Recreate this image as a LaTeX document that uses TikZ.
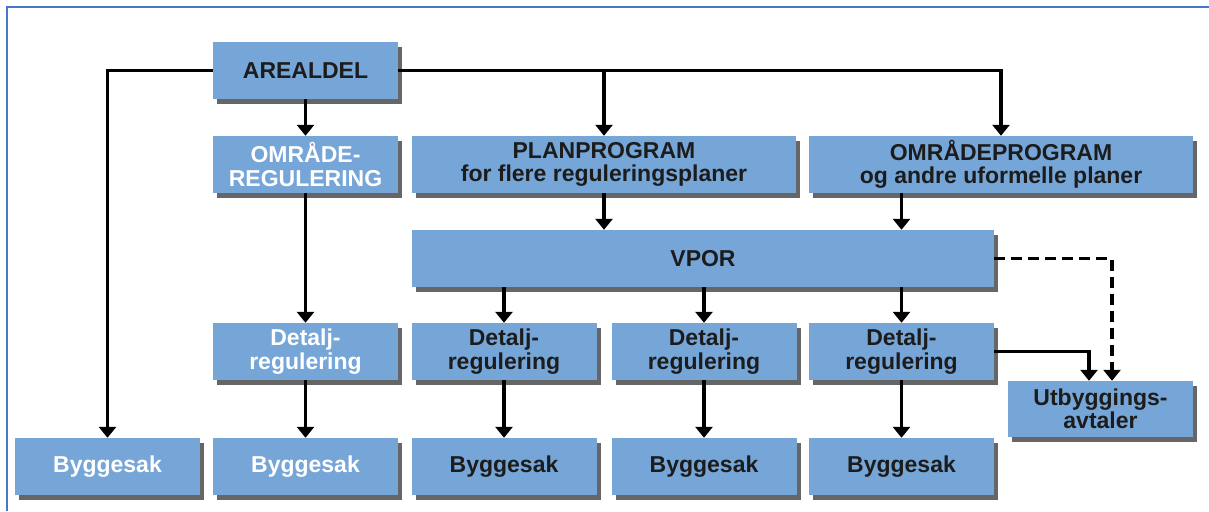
\documentclass[tikz,border=0pt]{standalone}
\usepackage{fontspec}
\setmainfont{Liberation Sans}
\usetikzlibrary{arrows.meta,shadows}

\definecolor{boxblue}{HTML}{76A6D8}
\definecolor{framblue}{HTML}{4A76C9}
\definecolor{txtdark}{HTML}{1C1C1C}

\begin{document}
\begin{tikzpicture}[x=1pt, y=-1pt,
    boks/.style={fill=boxblue, minimum width=185pt, minimum height=57pt, inner sep=0pt,
        align=center, font=\fontsize{23}{23.5}\selectfont\bfseries, text=txtdark,
        drop shadow={shadow xshift=4pt, shadow yshift=-5pt, opacity=0.6, fill=black}},
    bred/.style={boks, minimum width=384pt},
    hvit/.style={text=white},
    pil/.style={-{Triangle[width=17pt,length=11pt]}, line width=3.2pt},
    stiplet/.style={pil, dash pattern=on 11pt off 6pt}]

    \useasboundingbox (0,0) rectangle (1209,511);

    % ramme (bare topp og venstre side synlig)
    \draw[framblue, line width=2.5pt] (7,511) -- (7,7) -- (1209,7);

    % 1. øverste nivå
    \node[boks] (areal) at (305.5,70.5) {AREALDEL};

    % 2. andre nivå
    \node[boks, hvit] (omrreg) at (305.5,164.5) {OMRÅDE-\\REGULERING};
    \node[bred] (planprog) at (604,164.5) {PLANPROGRAM\\for flere reguleringsplaner};
    \node[bred] (omrprog) at (1001,164.5) {OMRÅDEPROGRAM\\og andre uformelle planer};

    % 3. VPOR
    \node[boks, minimum width=582pt] (vpor) at (703,258.5) {VPOR};

    % 4. detaljregulering
    \node[boks, hvit] (det1) at (305.5,351.5) {Detalj-\\regulering};
    \node[boks] (det2) at (504,351.5) {Detalj-\\regulering};
    \node[boks] (det3) at (704,351.5) {Detalj-\\regulering};
    \node[boks] (det4) at (901.5,351.5) {Detalj-\\regulering};
    \node[boks, minimum height=56pt] (utb) at (1100.5,409) {Utbyggings-\\avtaler};

    % 5. byggesak
    \node[boks, hvit] (bygg1) at (107.5,466.5) {Byggesak};
    \node[boks, hvit] (bygg2) at (305.5,466.5) {Byggesak};
    \node[boks] (bygg3) at (504,466.5) {Byggesak};
    \node[boks] (bygg4) at (704,466.5) {Byggesak};
    \node[boks] (bygg5) at (901.5,466.5) {Byggesak};

    % piler fra arealdelen
    \draw[pil] (areal.west) -| (bygg1.north);
    \draw[pil] (areal.east) -| (omrprog.north);
    \draw[pil] (planprog.north |- areal.east) -- (planprog.north);
    \draw[pil] (areal.south) -- (omrreg.north);
    \draw[pil] (omrreg.south) -- (det1.north);

    % piler til og fra VPOR
    \draw[pil] (planprog.south) -- (planprog.south |- vpor.north);
    \draw[pil] (det4.north |- omrprog.south) -- (det4.north |- vpor.north);
    \foreach \d in {det2,det3,det4} {
        \draw[pil] (\d.north |- vpor.south) -- (\d.north);
    }
    \draw[stiplet] (vpor.east) -| ([xshift=11.5pt]utb.north);
    \draw[pil] (det4.east) -| ([xshift=-11.5pt]utb.north);

    % piler til byggesak
    \draw[pil] (det1.south) -- (bygg2.north);
    \draw[pil] (det2.south) -- (bygg3.north);
    \draw[pil] (det3.south) -- (bygg4.north);
    \draw[pil] (det4.south) -- (bygg5.north);

\end{tikzpicture}
\end{document}
